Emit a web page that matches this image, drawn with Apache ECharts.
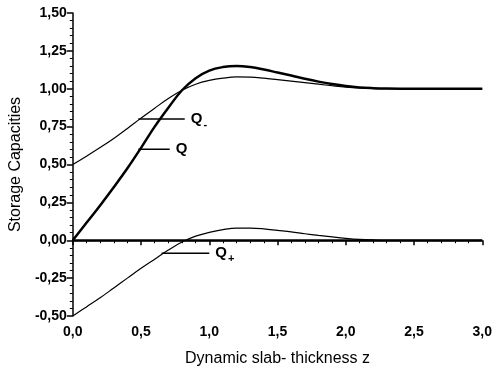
<!DOCTYPE html>
<html><head><meta charset="utf-8">
<script src="https://cdn.jsdelivr.net/npm/echarts@6/dist/echarts.min.js"></script>
<style>html,body{margin:0;padding:0;background:#fff}#c{width:495px;height:372px}</style>
</head><body><div id="c"></div>
<script>
var z =      [0,0.1,0.2,0.3,0.4,0.5,0.6,0.7,0.8,0.9,1.0,1.1,1.2,1.3,1.4,1.5,1.6,1.7,1.8,1.9,2.0,2.1,2.2,2.3,2.4,2.5,2.6,2.7,2.8,2.9,3.0];
var Q =      [0,0.115,0.23,0.35,0.475,0.61,0.75,0.875,0.99,1.07,1.12,1.143,1.15,1.143,1.127,1.107,1.087,1.066,1.047,1.031,1.018,1.009,1.004,1.001,1.0,1.0,1.0,1.0,1.0,1.0,1.0];
var Qminus = [0.5,0.555,0.612,0.672,0.738,0.806,0.872,0.935,0.99,1.03,1.055,1.07,1.078,1.077,1.07,1.06,1.05,1.04,1.03,1.02,1.011,1.005,1.002,1.0,1.0,1.0,1.0,1.0,1.0,1.0,1.0];
var Qplus =  [-0.5,-0.44,-0.38,-0.315,-0.25,-0.185,-0.125,-0.065,-0.012,0.027,0.052,0.07,0.08,0.08,0.075,0.065,0.055,0.043,0.032,0.022,0.013,0.006,0.002,0,0,0,0,0,0,0,0];
var zeroLine = [[0,0],[3,0]];
// annotation leaders: [z, y] start and end
var leaderQminus = [[0.48,0.80],[0.82,0.80]];
var leaderQ = [[0.48,0.60],[0.71,0.60]];
var leaderQplus = [[0.65,-0.086],[1.0,-0.086]];

function pairs(xs, ys){ return xs.map(function(x,i){return [x, ys[i]];}); }
var FONT = 'Liberation Sans';
var rich = {a:{fontFamily:FONT,fontSize:15,fontWeight:'bold',color:'#000'},
            s:{fontFamily:FONT,fontSize:11,fontWeight:'bold',color:'#000',padding:[12,0,0,1]}};
function leader(data, text){
  return {type:'line', data:data, symbol:'none', silent:true,
    lineStyle:{color:'#000', width:1.5},
    label:{show:false},
    endLabel:{show:true, formatter:text, rich:rich, distance:6}
  };
}
function curve(data, w){
  return {type:'line',data:data,symbol:'none',smooth:0.4,
    lineStyle:{color:'#000',width:w}};
}
var chart = echarts.init(document.getElementById('c'));
chart.setOption({
  animation:false,
  grid:{left:72,right:10,top:13,bottom:56},
  xAxis:{type:'value',min:0,max:3,interval:0.5,
    name:'Dynamic slab- thickness z',nameLocation:'middle',nameGap:35,
    nameTextStyle:{fontFamily:FONT,fontSize:16,color:'#000'},
    axisLine:{lineStyle:{color:'#000',width:1.5}},
    axisTick:{length:5,lineStyle:{color:'#000',width:1.5}},
    minorTick:{show:true,splitNumber:5,length:3,lineStyle:{color:'#000',width:1}},
    splitLine:{show:false},
    axisLabel:{fontFamily:FONT,fontSize:14,fontWeight:'bold',color:'#000',margin:9,
      formatter:function(v){return v.toFixed(1).replace('.',',');}}},
  yAxis:{type:'value',min:-0.5,max:1.5,interval:0.25,
    name:'Storage Capacities',nameLocation:'middle',nameGap:47,
    nameTextStyle:{fontFamily:FONT,fontSize:16,color:'#000'},
    axisLine:{show:true,lineStyle:{color:'#000',width:1.5}},
    axisTick:{show:true,length:6,lineStyle:{color:'#000',width:1.5}},
    minorTick:{show:true,splitNumber:5,length:3,lineStyle:{color:'#000',width:1}},
    splitLine:{show:false},
    axisLabel:{fontFamily:FONT,fontSize:14,fontWeight:'bold',color:'#000',margin:6,
      formatter:function(v){return v.toFixed(2).replace('.',',');}}},
  series:[
    {type:'line',data:zeroLine,symbol:'none',lineStyle:{color:'#000',width:2}},
    curve(pairs(z,Q),2.5),
    curve(pairs(z,Qminus),1.2),
    curve(pairs(z,Qplus),1.2),
    leader(leaderQminus,'{a|Q}{s|-}'),
    leader(leaderQ,'{a|Q}'),
    leader(leaderQplus,'{a|Q}{s|+}')
  ]
});
</script></body></html>
